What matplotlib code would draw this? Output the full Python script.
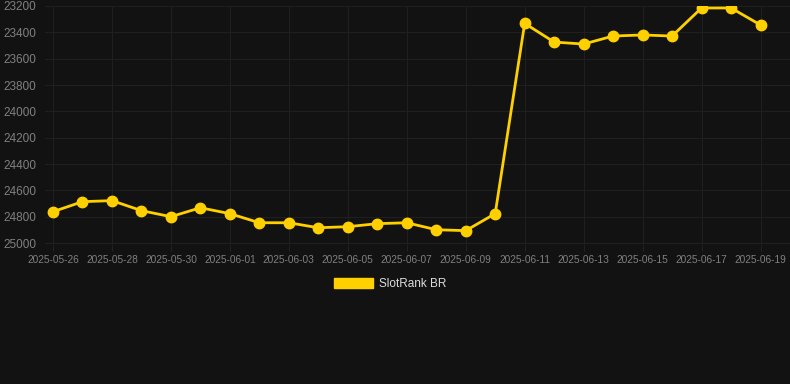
import matplotlib
matplotlib.use('Agg')
import matplotlib.pyplot as plt
import matplotlib.dates as mdates
import matplotlib.patches as mpatches
import pandas as pd

# data
dates = pd.date_range('2025-05-26', '2025-06-19', freq='D')
ranks = [24762, 24686, 24678, 24754, 24800, 24732, 24777, 24846, 24846, 24884,
         24876, 24853, 24846, 24899, 24906, 24777, 23332, 23474, 23489, 23428,
         23420, 23428, 23215, 23215, 23344]
series_name = 'SlotRank BR'

bg = '#121212'
gold = '#FFD000'
plt.rcParams['font.family'] = ['Liberation Sans', 'DejaVu Sans']

fig = plt.figure(figsize=(7.9, 3.84), dpi=100, facecolor=bg)
ax = fig.add_axes([45/790, 1-245/384, 1-45/790, (245-6)/384], facecolor=bg)

ax.plot(dates, ranks, color=gold, lw=2, marker='o', ms=7.5, zorder=3)

ax.set_ylim(25015, 23200)
ax.set_yticks(range(23200, 25001, 200))
ax.set_xlim(pd.Timestamp('2025-05-26') - pd.Timedelta(hours=6.5),
            pd.Timestamp('2025-06-20'))
ticks = pd.date_range('2025-05-26', '2025-06-19', freq='2D')
ax.set_xticks(ticks)
ax.xaxis.set_major_formatter(mdates.DateFormatter('%Y-%m-%d'))

ax.grid(True, color='#1f1f1f', lw=0.8)
for s in ax.spines.values():
    s.set_visible(False)
ax.tick_params(axis='y', colors='#808080', labelsize=8.5, length=0, pad=6)
ax.tick_params(axis='x', colors='#808080', labelsize=7.3, length=4, color='#222222', pad=3)
ax.axhline(25000, color='#2a2a2a', lw=0.8, zorder=1)

handle = mpatches.Patch(color=gold, label=series_name)
leg = fig.legend(handles=[handle], loc='center', bbox_to_anchor=(390/790, 1-284/384),
                 frameon=False, fontsize=8.5, handlelength=3.3, handleheight=0.9,
                 handletextpad=0.5, labelcolor='#dddddd')

fig.savefig('out.png', dpi=100, facecolor=bg)
